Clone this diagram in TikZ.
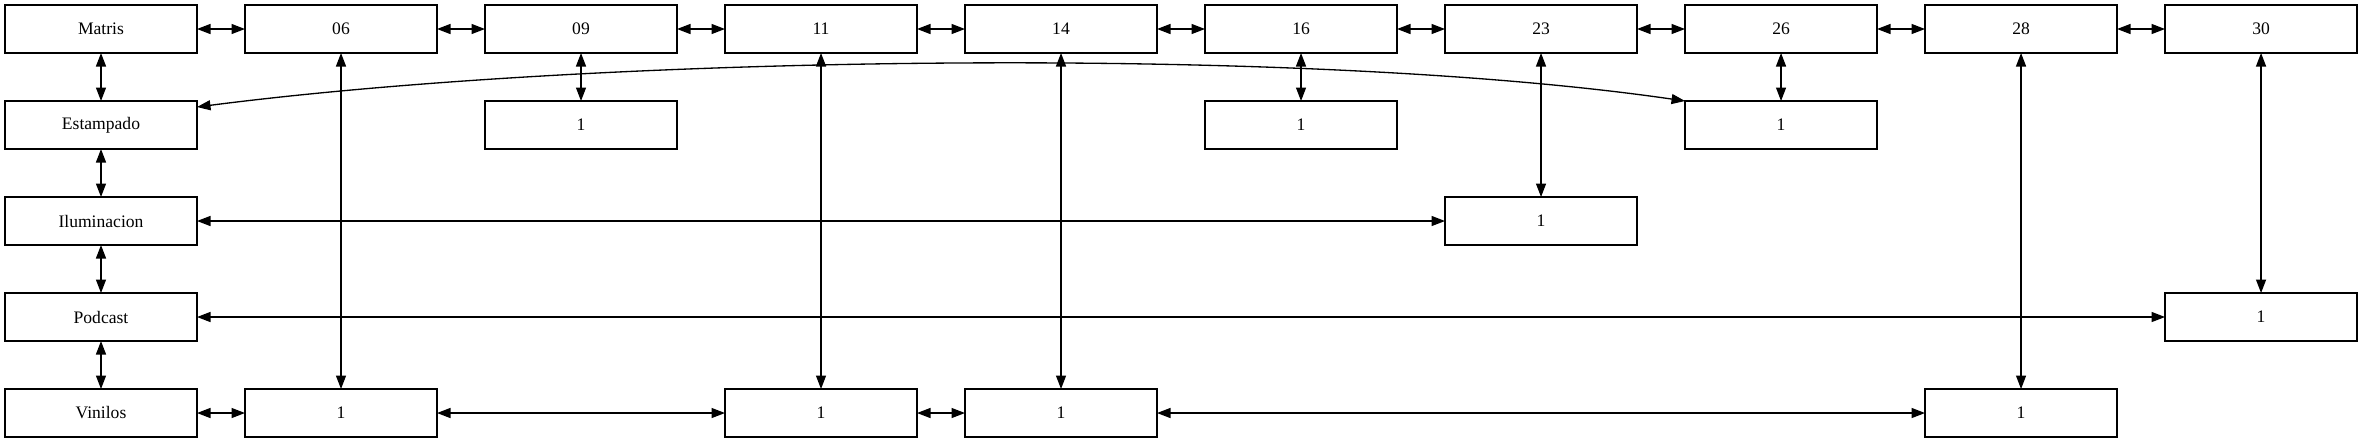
\documentclass[tikz,border=0pt]{standalone}
\usepackage{fontspec}
\setmainfont{Liberation Serif}
\usetikzlibrary{arrows.meta,positioning}
\tikzstyle{etat}=[draw, rectangle, anchor=center, text centered, minimum width=38.4mm, minimum height=9.6mm,
inner sep=0pt, outer sep=0pt, line width=0.75pt, font=\fontsize{10}{12}\selectfont]
\tikzstyle{lien}=[<->, >={Triangle[length=2.7mm,width=2mm]}, line width=0.75pt]

\begin{document}
\begin{tikzpicture}[x=0.2mm, y=-0.2mm, node distance=9.6mm]
	\useasboundingbox (0,0) rectangle (2363,443);

	% ligne des dates
	\node[etat] (Matris) at (101,29) {Matris};
	\node[etat, right=of Matris] (d06) {06};
	\draw[lien] (Matris) -- (d06);
	\node[etat, right=of d06] (d09) {09};
	\draw[lien] (d06) -- (d09);
	\node[etat, right=of d09] (d11) {11};
	\draw[lien] (d09) -- (d11);
	\node[etat, right=of d11] (d14) {14};
	\draw[lien] (d11) -- (d14);
	\node[etat, right=of d14] (d16) {16};
	\draw[lien] (d14) -- (d16);
	\node[etat, right=of d16] (d23) {23};
	\draw[lien] (d16) -- (d23);
	\node[etat, right=of d23] (d26) {26};
	\draw[lien] (d23) -- (d26);
	\node[etat, right=of d26] (d28) {28};
	\draw[lien] (d26) -- (d28);
	\node[etat, right=of d28] (d30) {30};
	\draw[lien] (d28) -- (d30);

	% colonne des categories
	\node[etat, below=of Matris] (Estampado) {Estampado};
	\draw[lien] (Matris) -- (Estampado);
	\node[etat, below=of Estampado] (Iluminacion) {Iluminacion};
	\draw[lien] (Estampado) -- (Iluminacion);
	\node[etat, below=of Iluminacion] (Podcast) {Podcast};
	\draw[lien] (Iluminacion) -- (Podcast);
	\node[etat, below=of Podcast] (Vinilos) {Vinilos};
	\draw[lien] (Podcast) -- (Vinilos);

	% Estampado
	\node[etat, below=of d09] (e09) {1};
	\draw[lien] (d09) -- (e09);
	\node[etat, below=of d16] (e16) {1};
	\draw[lien] (d16) -- (e16);
	\node[etat, below=of d26] (e26) {1};
	\draw[lien] (d26) -- (e26);
	\draw[lien] ([yshift=3.6mm]Estampado.east) .. controls (600,55) and (1300,45) .. (e26.north west);

	% Iluminacion
	\node[etat] (i23) at (d23 |- Iluminacion) {1};
	\draw[lien] (d23) -- (i23);
	\draw[lien] (Iluminacion) -- (i23);

	% Podcast
	\node[etat] (p30) at (d30 |- Podcast) {1};
	\draw[lien] (d30) -- (p30);
	\draw[lien] (Podcast) -- (p30);

	% Vinilos
	\node[etat] (v06) at (d06 |- Vinilos) {1};
	\draw[lien] (d06) -- (v06);
	\draw[lien] (Vinilos) -- (v06);
	\node[etat] (v11) at (d11 |- Vinilos) {1};
	\draw[lien] (d11) -- (v11);
	\draw[lien] (v06) -- (v11);
	\node[etat] (v14) at (d14 |- Vinilos) {1};
	\draw[lien] (d14) -- (v14);
	\draw[lien] (v11) -- (v14);
	\node[etat] (v28) at (d28 |- Vinilos) {1};
	\draw[lien] (d28) -- (v28);
	\draw[lien] (v14) -- (v28);

\end{tikzpicture}
\end{document}
